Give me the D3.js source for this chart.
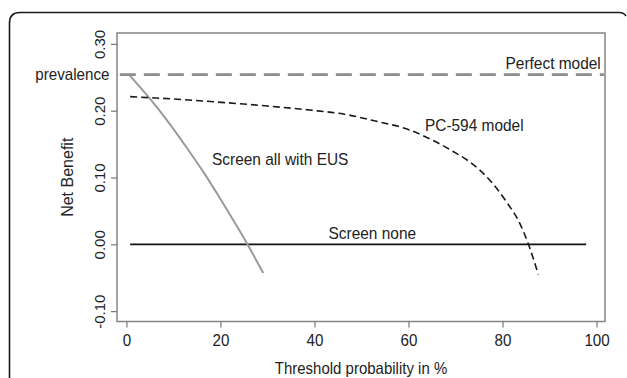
<!DOCTYPE html>
<html>
<head>
<meta charset="utf-8">
<script src="https://cdn.jsdelivr.net/npm/d3@7"></script>
<style>
  html, body { margin: 0; padding: 0; background: #fff; }
  svg { display: block; }
  text { font-family: "Liberation Sans", Arial, sans-serif; fill: #222; }
</style>
</head>
<body>
<svg id="chart" width="627" height="378"></svg>
<script>
// ---- data ----
const xTicks = [0, 20, 40, 60, 80, 100];
const yTicks = [-0.10, 0.00, 0.10, 0.20, 0.30];
const yTickLabels = ["-0.10", "0.00", "0.10", "0.20", "0.30"];
const prevalence = 0.254;

const perfectX = [-1.4, 101.6];
const perfectY = [prevalence, prevalence];

const noneX = [0.8, 97.8];
const noneY = [0, 0];

const screenAllX = [0.7, 5, 8.8, 12.8, 16.5, 19.9, 23, 25.6, 29.1];
const screenAllY = [0.253, 0.218, 0.184, 0.145, 0.107, 0.069, 0.033, 0.002, -0.043];

const pcX = [0.8, 10, 19.3, 30, 39, 46.1, 53.3, 60.3, 63.9, 69.5, 73.1, 77.3, 80.9, 83.7, 85.6, 87.6];
const pcY = [0.221, 0.2175, 0.213, 0.207, 0.201, 0.195, 0.184, 0.171, 0.160, 0.139, 0.123, 0.096, 0.063, 0.031, -0.0015, -0.045];

const labels = [
  { text: "Perfect model", x: 100.9, y: 0.2625, anchor: "end" },
  { text: "PC-594 model", x: 63.5, y: 0.169, anchor: "start" },
  { text: "Screen all with EUS", x: 18.2, y: 0.118, anchor: "start" },
  { text: "Screen none", x: 52.3, y: 0.0075, anchor: "middle" }
];

// ---- layout ----
const svg = d3.select("#chart");
const box = { left: 117, top: 33, right: 605, bottom: 321.5 };
const x = d3.scaleLinear().domain([-2.0, 101.8]).range([box.left, box.right]);
const y = d3.scaleLinear().domain([-0.1155, 0.3163]).range([box.bottom, box.top]);
const SX = 0.92;   // horizontal condensing of the reference's text

// outer frame (rounded panel border, partly cropped)
svg.append("path")
  .attr("d", "M9.5,380 L9.5,23 Q9.5,12.5 20,12.5 L619,12.5 Q624,12.5 626,16")
  .attr("fill", "none").attr("stroke", "#1a1a1a").attr("stroke-width", 1.6);

// plot box
svg.append("rect")
  .attr("x", box.left).attr("y", box.top)
  .attr("width", box.right - box.left).attr("height", box.bottom - box.top)
  .attr("fill", "none").attr("stroke", "#858585").attr("stroke-width", 1.5);

// x axis
const xAxis = d3.axisBottom(x).tickValues(xTicks).tickSize(6).tickFormat(d3.format("d"));
const gx = svg.append("g").attr("transform", `translate(0,${box.bottom})`).call(xAxis);
gx.select(".domain").remove();
gx.selectAll(".tick line").attr("stroke", "#777").attr("stroke-width", 1.2);
gx.selectAll(".tick text")
  .attr("font-size", 16.5).attr("fill", "#222")
  .attr("font-family", "Liberation Sans, Arial, sans-serif")
  .attr("y", null).attr("dy", null)
  .attr("transform", `translate(0,${346 - box.bottom}) scale(${SX},1)`);

// y axis
const yAxis = d3.axisLeft(y).tickValues(yTicks).tickSize(6).tickFormat((d, i) => yTickLabels[i]);
const gy = svg.append("g").attr("transform", `translate(${box.left},0)`).call(yAxis);
gy.select(".domain").remove();
gy.selectAll(".tick line").attr("stroke", "#777").attr("stroke-width", 1.2);
gy.selectAll(".tick text")
  .attr("font-size", 15).attr("fill", "#222")
  .attr("font-family", "Liberation Sans, Arial, sans-serif")
  .attr("x", null).attr("dy", null)
  .attr("text-anchor", "middle")
  .attr("transform", "translate(-12,0) rotate(-90)");

function hText(px, py, str, size, anchor) {
  return svg.append("text")
    .attr("transform", `translate(${px},${py}) scale(${SX},1)`)
    .attr("text-anchor", anchor).attr("font-size", size).text(str);
}

// prevalence label
hText(box.left - 7.5, y(prevalence) + 5.5, "prevalence", 16.5, "end");

// axis titles
svg.append("text")
  .attr("transform", `translate(72.5,${(box.top + box.bottom) / 2}) rotate(-90)`)
  .attr("text-anchor", "middle").attr("font-size", 16).text("Net Benefit");
hText((box.left + box.right) / 2, 373.5, "Threshold probability in %", 16.3, "middle");

// lines
const line = d3.line().x(d => x(d[0])).y(d => y(d[1]));
const smooth = d3.line().x(d => x(d[0])).y(d => y(d[1])).curve(d3.curveMonotoneX);
const smoothCR = d3.line().x(d => x(d[0])).y(d => y(d[1])).curve(d3.curveCatmullRom.alpha(0.5));

svg.append("path")
  .attr("d", line(d3.zip(perfectX, perfectY)))
  .attr("fill", "none").attr("stroke", "#8c8c8c").attr("stroke-width", 2.8)
  .attr("stroke-dasharray", "16,8");

svg.append("path")
  .attr("d", line(d3.zip(noneX, noneY)))
  .attr("fill", "none").attr("stroke", "#111").attr("stroke-width", 1.8);

svg.append("path")
  .attr("d", smoothCR(d3.zip(screenAllX, screenAllY)))
  .attr("fill", "none").attr("stroke", "#9a9a9a").attr("stroke-width", 2);

svg.append("path")
  .attr("d", smooth(d3.zip(pcX, pcY)))
  .attr("fill", "none").attr("stroke", "#1a1a1a").attr("stroke-width", 1.6)
  .attr("stroke-dasharray", "7,4");

// curve labels
labels.forEach(d => hText(x(d.x), y(d.y), d.text, 16.8, d.anchor));
</script>
</body>
</html>
